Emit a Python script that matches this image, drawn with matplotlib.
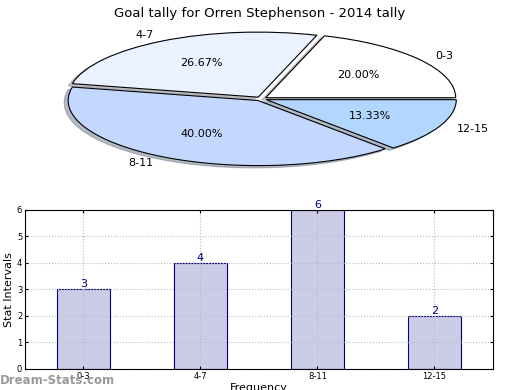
import matplotlib
matplotlib.use("Agg")
import matplotlib.pyplot as plt

# goal tally data
intervals = ["0-3", "4-7", "8-11", "12-15"]
goals = [3, 4, 6, 2]
slice_colors = ["#ffffff", "#eaf1ff", "#c4d8ff", "#b3d6ff"]

fig = plt.figure(figsize=(5.2, 3.9), dpi=100)

# pie on top (squashed into an ellipse)
ax1 = fig.add_axes([0.10, 0.563, 0.804, 0.367])
ax1.pie(goals, labels=intervals, colors=slice_colors, autopct="%.2f%%",
        startangle=0, explode=[0.03] * 4,
        shadow={"ox": -0.015, "oy": -0.025, "shade": 0.45},
        wedgeprops={"edgecolor": "black", "linewidth": 0.8},
        textprops={"fontsize": 8})
ax1.set_aspect("auto")
ax1.set_xlim(-1.1, 1.1)
ax1.set_ylim(-1.1, 1.1)
ax1.axis("off")
fig.text(0.5, 0.965, "Goal tally for Orren Stephenson - 2014 tally",
         ha="center", va="center", fontsize=9.5)

# bar chart below
ax2 = fig.add_axes([0.048, 0.054, 0.9, 0.408])
pos = range(len(intervals))
bars = ax2.bar(pos, goals, width=0.45, color="#cccce6", edgecolor="#000080",
               linewidth=0.8, zorder=2)
for b, v in zip(bars, goals):
    ax2.text(b.get_x() + b.get_width() / 2, v, str(v), ha="center",
             va="bottom", color="#000080", fontsize=8)
ax2.set_xlim(-0.5, 3.5)
ax2.set_ylim(0, 6)
ax2.set_xticks(list(pos))
ax2.set_xticklabels(intervals)
ax2.tick_params(labelsize=6, length=2, direction="in", right=True, top=True, pad=2)
ax2.grid(True, linestyle=":", color="#bbbbbb", zorder=3)
ax2.set_axisbelow(False)
for sp in ax2.spines.values():
    sp.set_zorder(5)
ax2.set_ylabel("Stat Intervals", fontsize=8, labelpad=2)
ax2.set_xlabel("Frequency", fontsize=8, labelpad=2)

fig.text(0.0, 0.025, "Dream-Stats.com", fontsize=8.5, color="#999999",
         fontweight="bold", ha="left", va="center")

fig.savefig("out.png", dpi=100)
